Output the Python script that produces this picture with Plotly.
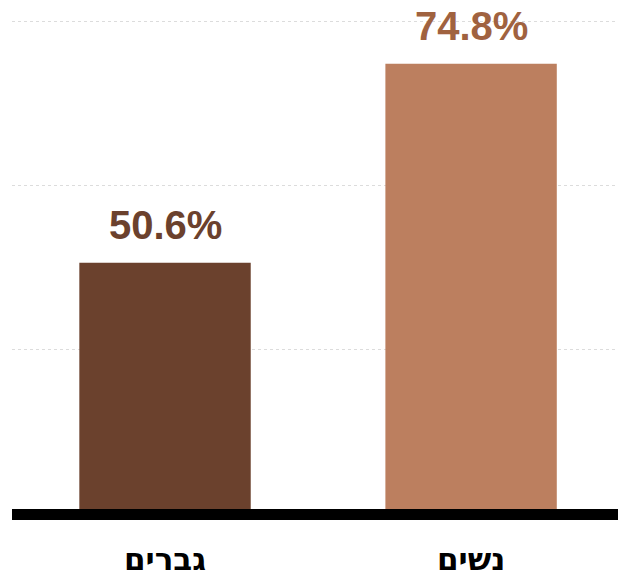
import plotly.graph_objects as go

categories = ["גברים", "נשים"]
values = [50.6, 74.8]
bar_colors = ["#6B412D", "#BC7F5F"]
label_colors = ["#6B412D", "#A0623F"]
value_labels = ["50.6%", "74.8%"]

FONT = "Liberation Sans"

fig = go.Figure()
fig.add_trace(go.Bar(
    x=categories, y=values,
    marker=dict(color=bar_colors, line=dict(width=0)),
    width=0.56,
    hoverinfo="skip",
))

for c, v, t, col in zip(categories, values, value_labels, label_colors):
    fig.add_annotation(x=c, y=v, text=t, showarrow=False, yanchor="bottom",
                       yshift=14, font=dict(family=FONT, size=40, color=col, weight="bold"))

fig.add_shape(type="line", xref="paper", x0=0, x1=1, yref="y", y0=20, y1=20,
              line=dict(color="black", width=11), layer="above")

fig.update_layout(
    width=618, height=576,
    margin=dict(l=12, r=0, t=5, b=56),
    paper_bgcolor="white", plot_bgcolor="white",
    showlegend=False,
    bargap=0.44,
    xaxis=dict(type="category", range=[-0.5, 1.48], showgrid=False, zeroline=False,
               showline=False, ticks="", ticklabelstandoff=18,
               tickfont=dict(family="DejaVu Sans", size=31, color="black", weight="bold")),
    yaxis=dict(range=[19.33, 81.945], tick0=0, dtick=20, showticklabels=False,
               showgrid=True, gridcolor="#dcdcdc", gridwidth=1, griddash="dot",
               zeroline=False, showline=False),
)

fig.write_html("out.html")
